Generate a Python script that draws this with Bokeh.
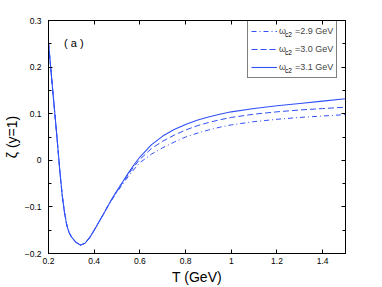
from bokeh.plotting import figure
from bokeh.models import Range1d, FixedTicker, LinearAxis, Legend, LegendItem, Label
from bokeh.embed import file_html
from bokeh.resources import INLINE

T = [0.20, 0.21, 0.22, 0.23, 0.24, 0.25, 0.26, 0.27, 0.28, 0.29, 0.30, 0.32, 0.34,
     0.36, 0.38, 0.40, 0.42, 0.44, 0.46, 0.48, 0.50, 0.525, 0.55, 0.575, 0.60,
     0.65, 0.70, 0.75, 0.80, 0.85, 0.90, 0.95, 1.00, 1.10, 1.20, 1.30, 1.40, 1.50]

zeta_31 = [0.252, 0.197, 0.142, 0.088, 0.033, -0.025, -0.075, -0.112, -0.139, -0.155, -0.164, -0.176, -0.182,
           -0.178, -0.166, -0.150, -0.133, -0.116, -0.098, -0.081, -0.065, -0.046, -0.027, -0.009, 0.007,
           0.033, 0.052, 0.066, 0.077, 0.086, 0.093, 0.099, 0.104, 0.111, 0.117, 0.122, 0.127, 0.132]
zeta_30 = [0.252, 0.197, 0.142, 0.088, 0.033, -0.025, -0.075, -0.112, -0.139, -0.155, -0.164, -0.176, -0.182,
           -0.178, -0.166, -0.150, -0.133, -0.116, -0.098, -0.081, -0.066, -0.048, -0.030, -0.013, 0.002,
           0.025, 0.041, 0.054, 0.065, 0.074, 0.081, 0.087, 0.092, 0.099, 0.104, 0.108, 0.111, 0.114]
zeta_29 = [0.252, 0.197, 0.142, 0.088, 0.033, -0.025, -0.075, -0.112, -0.139, -0.155, -0.164, -0.176, -0.182,
           -0.178, -0.166, -0.150, -0.133, -0.116, -0.099, -0.083, -0.068, -0.051, -0.034, -0.019, -0.005,
           0.013, 0.027, 0.039, 0.050, 0.058, 0.065, 0.071, 0.076, 0.083, 0.088, 0.092, 0.095, 0.098]

series_values = ["2.9", "3.0", "3.1"]

x_ticks = [0.2, 0.4, 0.6, 0.8, 1.0, 1.2, 1.4]
x_tick_labels = ["0.2", "0.4", "0.6", "0.8", "1", "1.2", "1.4"]
y_ticks = [-0.2, -0.1, 0, 0.1, 0.2, 0.3]
y_tick_labels = ["\u22120.2", "\u22120.1", "0", "0.1", "0.2", "0.3"]
y_minor = [-0.15, -0.05, 0.05, 0.15, 0.25]

BLUE = "#3050f8"
FONT = "Liberation Sans"

p = figure(output_backend="svg", toolbar_location=None,
           x_range=Range1d(0.2, 1.5), y_range=Range1d(-0.2, 0.3),
           frame_width=297, frame_height=233,
           min_border_left=41, min_border_top=20, min_border_right=36, min_border_bottom=30)
p.grid.visible = False
p.outline_line_color = "black"
p.outline_line_width = 1
p.background_fill_color = "white"
p.border_fill_color = "white"

r29 = p.line(T, zeta_29, line_color=BLUE, line_width=1, line_dash="5 3 1 3")
r30 = p.line(T, zeta_30, line_color=BLUE, line_width=1, line_dash="6 3")
r31 = p.line(T, zeta_31, line_color=BLUE, line_width=1.1)

def style_axis(ax, labels=True):
    ax.axis_line_color = "black"
    ax.major_tick_in = 4
    ax.major_tick_out = 0
    ax.minor_tick_in = 3
    ax.minor_tick_out = 0
    ax.major_tick_line_color = "black"
    ax.minor_tick_line_color = "black"
    ax.major_label_text_font = FONT
    ax.major_label_text_font_size = "8.5px"
    ax.major_label_text_color = "black"
    ax.axis_label_text_font = FONT
    ax.axis_label_text_font_size = "14px"
    ax.axis_label_text_font_style = "normal"
    ax.axis_label_text_color = "black"
    if not labels:
        ax.major_label_text_color = None
        ax.major_label_standoff = 0

xb = p.xaxis[0]
xb.ticker = FixedTicker(ticks=x_ticks)
xb.major_label_overrides = {t: l for t, l in zip(x_ticks, x_tick_labels)}
style_axis(xb)
xb.axis_label = "T (GeV)"
xb.major_label_standoff = 4
xb.axis_label_standoff = 2

yl = p.yaxis[0]
yl.ticker = FixedTicker(ticks=y_ticks, minor_ticks=y_minor)
yl.major_label_overrides = {t: l for t, l in zip(y_ticks, y_tick_labels)}
style_axis(yl)
yl.axis_label = "\u03b6 (y=1)"
yl.major_label_standoff = 7
yl.axis_label_standoff = 2

xt = LinearAxis(ticker=FixedTicker(ticks=x_ticks))
style_axis(xt, labels=False)
p.add_layout(xt, "above")
yr = LinearAxis(ticker=FixedTicker(ticks=y_ticks, minor_ticks=y_minor))
style_axis(yr, labels=False)
p.add_layout(yr, "right")

gap = "\u2009\u2009\u2009\u2009\u2009"
legend = Legend(items=[
    LegendItem(label="\u03c9" + gap + "=" + series_values[0] + " GeV", renderers=[r29]),
    LegendItem(label="\u03c9" + gap + "=" + series_values[1] + " GeV", renderers=[r30]),
    LegendItem(label="\u03c9" + gap + "=" + series_values[2] + " GeV", renderers=[r31]),
], location=(199, 175))
legend.label_text_font = FONT
legend.label_text_font_size = "9px"
legend.glyph_width = 26
legend.glyph_height = 14
legend.label_height = 14
legend.label_standoff = 2
legend.spacing = 4
legend.padding = 3
legend.margin = 0
legend.border_line_color = "black"
legend.border_line_width = 1
legend.background_fill_color = None
legend.background_fill_alpha = 0
p.add_layout(legend, "center")

row_y = [216, 198, 180]
for yy in row_y:
    p.add_layout(Label(x=236.5, y=yy, x_units="screen", y_units="screen", text="c2",
                       text_font=FONT, text_font_size="6.5px", text_color="black"))

p.add_layout(Label(x=0.268, y=0.238, text="( a )", text_font=FONT, text_font_size="11px",
                   text_color="black"))

open("out.html", "w").write(file_html(p, INLINE))
